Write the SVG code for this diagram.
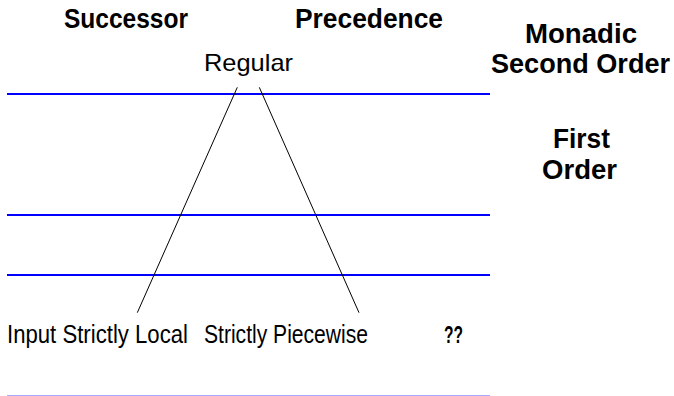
<svg xmlns="http://www.w3.org/2000/svg" width="674" height="396" viewBox="0 0 674 396">
<style>
.t{font-family:"Liberation Sans",Arial,sans-serif;font-size:26px;fill:#000}
.b{font-family:"Liberation Sans",Arial,sans-serif;font-size:27px;font-weight:bold;fill:#000}
.band{stroke:#0000ff;stroke-width:2;fill:none}
.edge{stroke:#000;stroke-width:1;fill:none}
</style>
<rect width="674" height="396" fill="#fff"/>
<g id="bands">
<line class="band" x1="7" y1="94" x2="490" y2="94"/>
<line class="band" x1="7" y1="215" x2="490" y2="215"/>
<line class="band" x1="7" y1="275" x2="490" y2="275"/>
<line x1="7" y1="395.5" x2="490" y2="395.5" stroke="#aaaaff" stroke-width="1"/>
</g>
<g id="headers">
<text class="b" x="64" y="28" textLength="124" lengthAdjust="spacingAndGlyphs">Successor</text>
<text class="b" x="295" y="28" textLength="148" lengthAdjust="spacingAndGlyphs">Precedence</text>
<text class="b" x="525" y="43" textLength="112" lengthAdjust="spacingAndGlyphs">Monadic</text>
<text class="b" x="491" y="73" textLength="179" lengthAdjust="spacingAndGlyphs">Second Order</text>
<text class="b" x="553" y="148" textLength="57" lengthAdjust="spacingAndGlyphs">First</text>
<text class="b" x="542" y="179" textLength="75" lengthAdjust="spacingAndGlyphs">Order</text>
<text class="b" x="444" y="343" style="font-size:23px" textLength="19" lengthAdjust="spacingAndGlyphs">??</text>
</g>
<g id="connectors">
<line class="edge" x1="237.3" y1="87.3" x2="137.3" y2="312.7"/>
<line class="edge" x1="259.3" y1="87.3" x2="359" y2="312.7"/>
</g>
<g id="regular"><text class="t" x="204" y="71" style="font-size:24px" textLength="89" lengthAdjust="spacingAndGlyphs">Regular</text></g>
<g id="isl"><text class="t" x="7" y="343" textLength="181" lengthAdjust="spacingAndGlyphs">Input Strictly Local</text></g>
<g id="sp"><text class="t" x="204" y="343" textLength="164" lengthAdjust="spacingAndGlyphs">Strictly Piecewise</text></g>
</svg>
